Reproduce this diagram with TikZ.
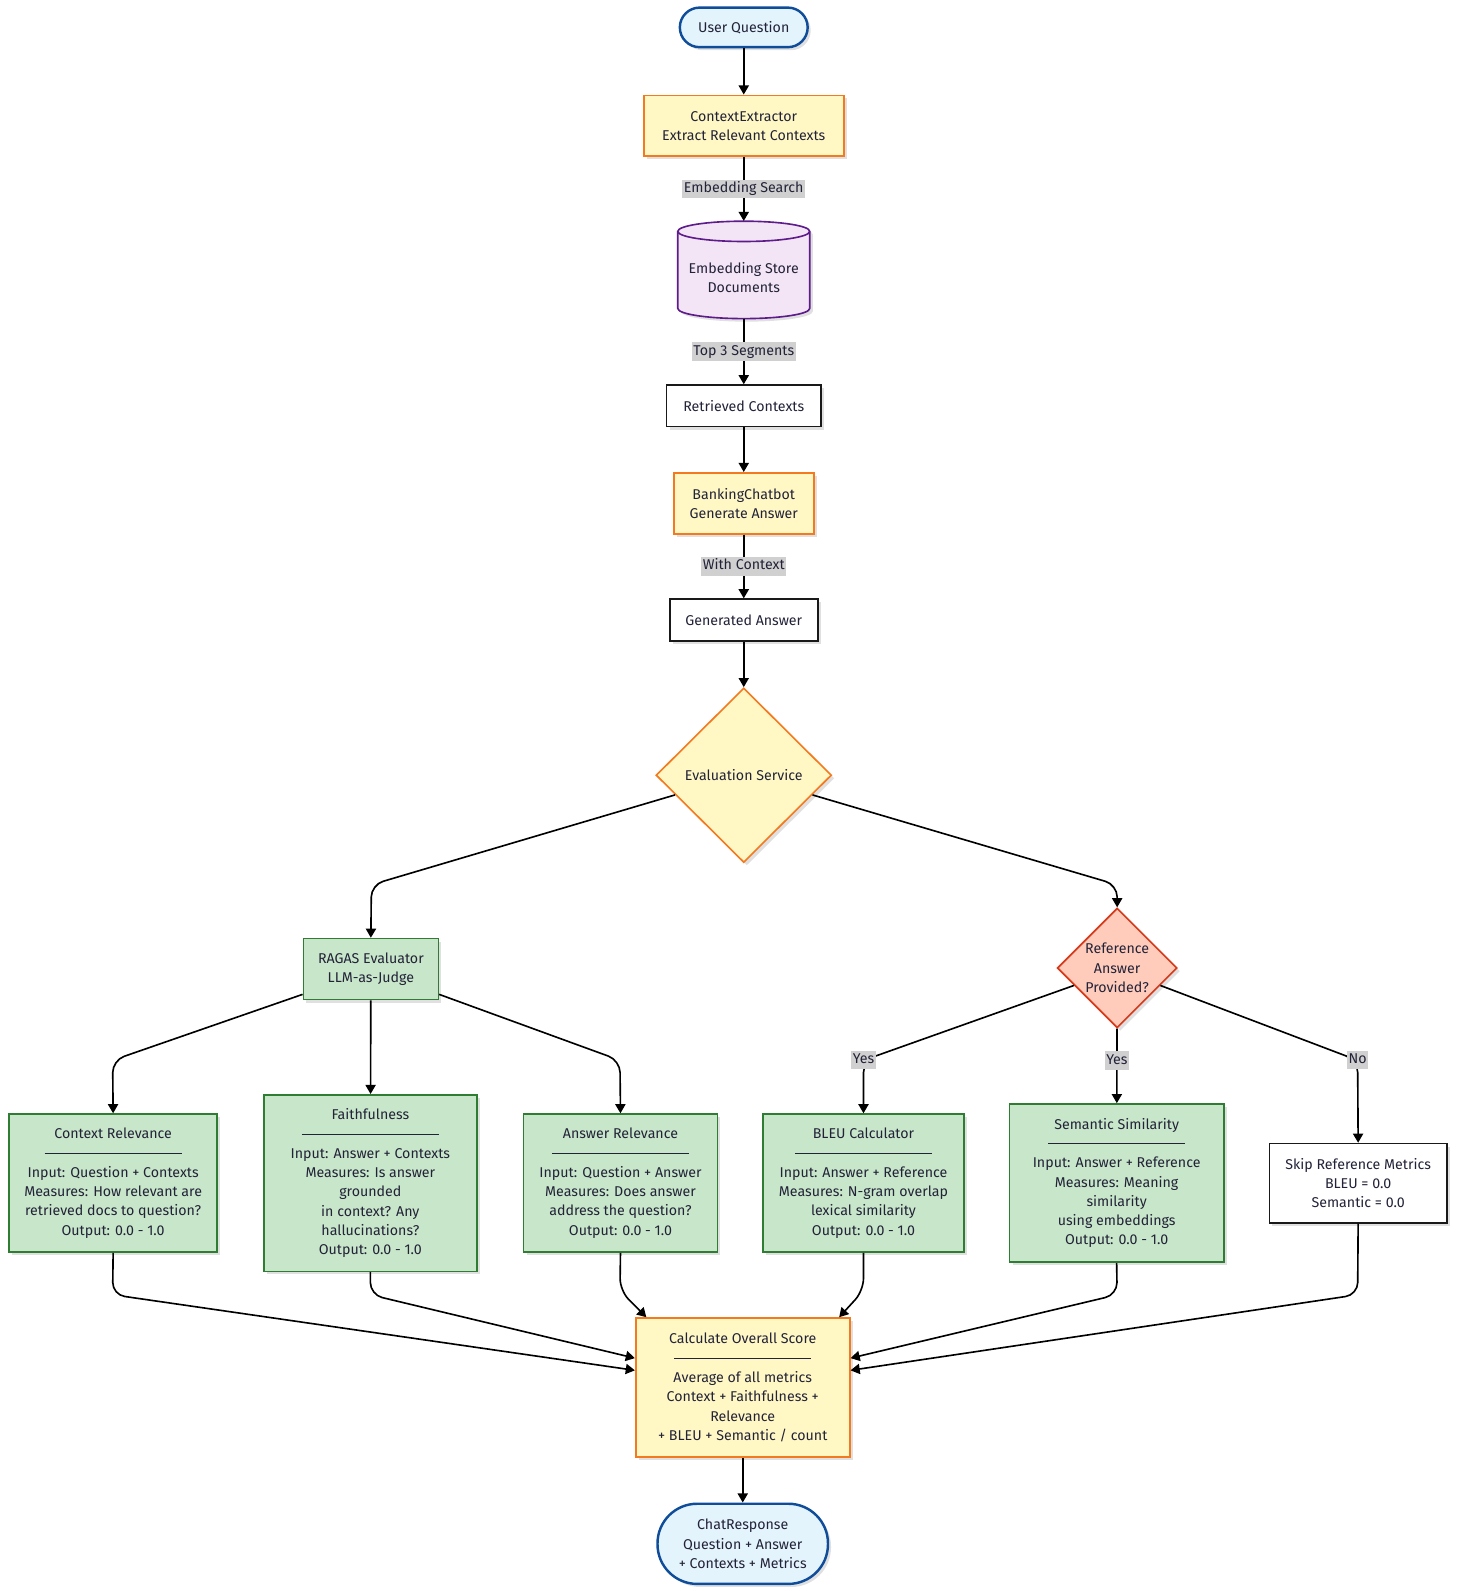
\documentclass[tikz,border=0pt]{standalone}
\usepackage{fontspec}
\setmainfont{Fira Sans}
\usetikzlibrary{shapes.geometric,arrows.meta,shadows}
\definecolor{txt}{HTML}{222238}
\definecolor{bluefill}{HTML}{E3F4FC}
\definecolor{bluestroke}{HTML}{0F4C99}
\definecolor{yelfill}{HTML}{FFF8C5}
\definecolor{orange}{HTML}{F37A1F}
\definecolor{purfill}{HTML}{F3E5F5}
\definecolor{purstroke}{HTML}{5E1B8C}
\definecolor{grnfill}{HTML}{C8E6C9}
\definecolor{grnstroke}{HTML}{2E7D32}
\definecolor{redfill}{HTML}{FFCCBC}
\definecolor{redstroke}{HTML}{D63A1A}
\definecolor{lblgray}{HTML}{D0D0D0}
\newcommand{\sepline}{\rule[0.3em]{135pt}{1pt}}
\begin{document}
\begin{tikzpicture}[x=1pt,y=-1pt,
  txtstyle/.style={align=center, font=\fontsize{14}{19}\selectfont, text=txt, inner sep=0pt},
  base/.style={txtstyle, line width=1.6pt,
    drop shadow={shadow xshift=3pt, shadow yshift=-3pt, opacity=0.12, fill=black}},
  stadium/.style={base, rectangle, draw=bluestroke, fill=bluefill, line width=2.4pt},
  procbox/.style={base, rectangle, draw=orange, fill=yelfill},
  plainbox/.style={base, rectangle, draw=black!90, fill=white},
  metric/.style={base, rectangle, draw=grnstroke, fill=grnfill},
  decide/.style={base, diamond, draw=orange, fill=yelfill},
  refdecide/.style={base, diamond, draw=redstroke, fill=redfill},
  cylr/.style={x radius=65pt, y radius=10pt},
  arr/.style={line width=1.6pt, draw=black, -{Triangle[length=9pt,width=10pt]}},
  elabel/.style={sharp corners, fill=lblgray, text=txt, font=\fontsize{14}{19}\selectfont, inner xsep=1.5pt, inner ysep=2.5pt, text height=10pt, text depth=3pt}
]
\useasboundingbox[fill=white] (0,0) rectangle (1435,1568);

\node[stadium, rounded corners=19.5pt, minimum width=126pt, minimum height=39pt] (uq) at (733,27) {User Question};
\node[procbox, minimum width=197pt, minimum height=60pt] (ce) at (733,124) {ContextExtractor\\Extract Relevant Contexts};

% Embedding store cylinder
\fill[black, opacity=0.12] (671,231) -- (671,307) arc[start angle=180, end angle=360, cylr] -- (801,231) arc[start angle=0, end angle=180, cylr] -- cycle;
\path[fill=purfill, draw=purstroke, line width=1.6pt] (668,228) -- (668,304) arc[start angle=180, end angle=360, cylr] -- (798,228) arc[start angle=0, end angle=180, cylr] -- cycle;
\draw[purstroke, line width=1.6pt] (668,228) arc[start angle=180, end angle=360, cylr];
\node[txtstyle, minimum width=130pt, minimum height=96pt] (store) at (733,266) {};
\node[txtstyle] (storetxt) at (733,273.5) {Embedding Store\\Documents};

\node[plainbox, minimum width=152pt, minimum height=41pt] (rc) at (733,400) {Retrieved Contexts};
\node[procbox, minimum width=138pt, minimum height=60pt] (bc) at (733,496) {BankingChatbot\\Generate Answer};
\node[plainbox, minimum width=146pt, minimum height=41pt] (ga) at (733,611) {Generated Answer};
\node[decide, minimum width=173pt, minimum height=172pt] (eval) at (733,764) {Evaluation Service};
\node[refdecide, minimum width=118pt, minimum height=118pt] (ref) at (1101,954) {Reference\\Answer\\Provided?};
\node[metric, minimum width=133pt, minimum height=60pt] (ragas) at (365.5,955) {RAGAS Evaluator\\LLM-as-Judge};

\node[metric, minimum width=205pt, minimum height=136pt] (cr) at (111.5,1166) {Context Relevance\\\sepline\\Input: Question + Contexts\\Measures: How relevant are\\retrieved docs to question?\\Output: 0.0 - 1.0};
\node[metric, minimum width=210pt, minimum height=174pt] (faith) at (365,1166) {Faithfulness\\\sepline\\Input: Answer + Contexts\\Measures: Is answer\\grounded\\in context? Any\\hallucinations?\\Output: 0.0 - 1.0};
\node[metric, minimum width=191pt, minimum height=136pt] (ar) at (611.5,1166) {Answer Relevance\\\sepline\\Input: Question + Answer\\Measures: Does answer\\address the question?\\Output: 0.0 - 1.0};
\node[metric, minimum width=198pt, minimum height=136pt] (bleu) at (851,1166) {BLEU Calculator\\\sepline\\Input: Answer + Reference\\Measures: N-gram overlap\\lexical similarity\\Output: 0.0 - 1.0};
\node[metric, minimum width=211pt, minimum height=156pt] (sem) at (1100.5,1166) {Semantic Similarity\\\sepline\\Input: Answer + Reference\\Measures: Meaning\\similarity\\using embeddings\\Output: 0.0 - 1.0};
\node[plainbox, minimum width=175pt, minimum height=78pt] (skip) at (1338.5,1166) {Skip Reference Metrics\\BLEU = 0.0\\Semantic = 0.0};

\node[procbox, minimum width=211pt, minimum height=137pt] (calc) at (732,1367.5) {Calculate Overall Score\\\sepline\\Average of all metrics\\Context + Faithfulness +\\Relevance\\+ BLEU + Semantic / count};
\node[stadium, rounded corners=39pt, minimum width=168pt, minimum height=79pt] (chat) at (732,1521.5) {ChatResponse\\Question + Answer\\+ Contexts + Metrics};

\draw[arr] (uq) -- (ce);
\draw[arr] (ce) -- node[elabel]{Embedding Search} (store);
\draw[arr] (store) -- node[elabel]{Top 3 Segments} (rc);
\draw[arr] (rc) -- (bc);
\draw[arr] (bc) -- node[elabel]{With Context} (ga);
\draw[arr] (ga) -- (eval);
\draw[arr, rounded corners=12pt] (eval.196) -- (366,872) -- (ragas.north);
\draw[arr, rounded corners=12pt] (eval.-16) -- (1101,872) -- (ref.north);

\draw[arr, rounded corners=12pt] ([yshift=-25pt]ragas.west) -- (111,1045) -- (cr.north);
\draw[arr] (ragas) -- (faith);
\draw[arr, rounded corners=12pt] ([yshift=-25pt]ragas.east) -- (611,1045) -- (ar.north);

\draw[arr, rounded corners=12pt] (ref.202) -- (851,1045) node[elabel]{Yes} -- (bleu.north);
\draw[arr] (ref) -- node[elabel, pos=0.43]{Yes} (sem);
\draw[arr, rounded corners=12pt] (ref.-22) -- (1338,1045) node[elabel]{No} -- (skip.north);

\draw[arr, rounded corners=12pt] (cr.south) -- (111,1276) -- ([yshift=17pt]calc.west);
\draw[arr, rounded corners=12pt] (faith.south) -- (365,1276) -- ([yshift=29pt]calc.west);
\draw[arr, rounded corners=12pt] (ar.south) -- (611,1272) -- ([xshift=-95pt]calc.north);
\draw[arr, rounded corners=12pt] (bleu.south) -- (851,1272) -- ([xshift=95pt]calc.north);
\draw[arr, rounded corners=12pt] (sem.south) -- (1101,1276) -- ([yshift=29pt]calc.east);
\draw[arr, rounded corners=12pt] (skip.south) -- (1338,1276) -- ([yshift=17pt]calc.east);

\draw[arr] (calc) -- (chat);
\end{tikzpicture}
\end{document}
